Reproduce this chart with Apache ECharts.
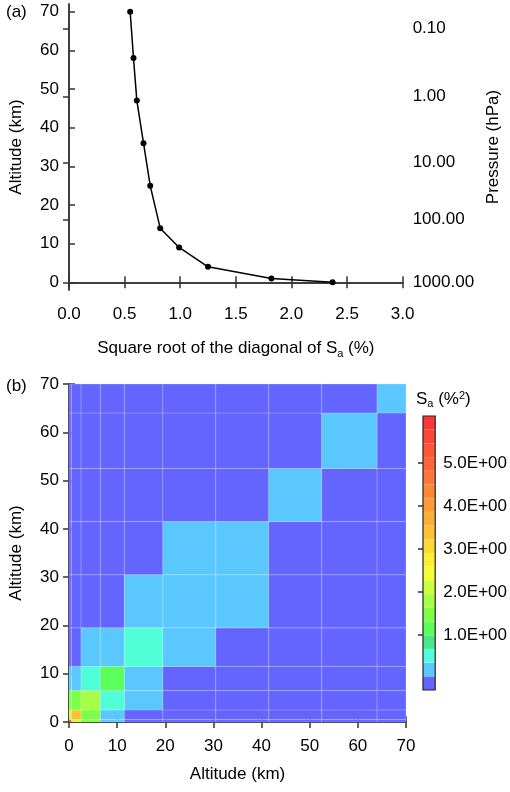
<!DOCTYPE html>
<html>
<head>
<meta charset="utf-8">
<script src="https://cdn.jsdelivr.net/npm/echarts@6/dist/echarts.min.js"></script>
<style>html,body{margin:0;padding:0;background:#fff}#main{width:510px;height:792px}</style>
</head>
<body>
<div id="main"></div>
<script>
// (a) profile
var sdValues = [2.37, 1.82, 1.25, 0.99, 0.82, 0.73, 0.67, 0.61, 0.58, 0.55];
var altitudes = [0, 1, 4, 9, 14, 25, 36, 47, 58, 70];
var pressureAlts = [0, 16.3, 31, 48.1, 65.6];
var pressureLabels = ['1000.00', '100.00', '10.00', '1.00', '0.10'];
// (b) covariance cells, layer edges in km
var layerEdges = [0, 0.5, 2.5, 6.5, 11.5, 19.5, 30.5, 41.5, 52.5, 64, 70];
var saMatrix = [
	[5.6, 2.1, 1.4, 0.2, 0, 0, 0, 0, 0, 0],
	[2.1, 3.3, 1.4, 0.2, 0, 0, 0, 0, 0, 0],
	[1.4, 1.4, 1.7, 0.5, 0.2, 0, 0, 0, 0, 0],
	[0.2, 0.2, 0.5, 1.0, 0.2, 0, 0, 0, 0, 0],
	[0, 0, 0.2, 0.2, 0.5, 0.2, 0, 0, 0, 0],
	[0, 0, 0, 0, 0.2, 0.2, 0.2, 0, 0, 0],
	[0, 0, 0, 0, 0, 0.2, 0.2, 0, 0, 0],
	[0, 0, 0, 0, 0, 0, 0, 0.2, 0, 0],
	[0, 0, 0, 0, 0, 0, 0, 0, 0.2, 0],
	[0, 0, 0, 0, 0, 0, 0, 0, 0, 0.2]
];
var cbMin = -0.28, cbMax = 6.09;
var cbColors = ['#6464ff','#5ac8ff','#50ffd8','#46e88c','#5aff5a','#7cff46','#a6ff46','#ccff3c',
	'#f2ff32','#ffee32','#ffd832','#ffc232','#ffae34','#ff9a36','#ff8836','#ff7636','#ff6636','#ff5636','#ff4636','#ff3636'];
var cbTicks = [1, 2, 3, 4, 5];

var FONT = 'Liberation Sans';
var binW = (cbMax - cbMin) / cbColors.length;
function colorFor(v){
	var i = Math.floor((v - cbMin) / binW);
	if(i < 0) i = 0;
	if(i > cbColors.length - 1) i = cbColors.length - 1;
	return cbColors[i];
}

var cells = [];
for(var r=0; r<saMatrix.length; r++){
	for(var c=0; c<saMatrix[r].length; c++){
		cells.push([layerEdges[c], layerEdges[c+1], layerEdges[r], layerEdges[r+1], saMatrix[r][c]]);
	}
}
var bins = [];
for(var k=0; k<cbColors.length; k++){
	bins.push([cbMin + k*binW, cbMin + (k+1)*binW, k]);
}
var profile = [];
for(var j=0; j<sdValues.length; j++){ profile.push([sdValues[j], altitudes[j]]); }

var lbl = {color:'#000', fontFamily:FONT, fontSize:17};
var axLine = {show:true, lineStyle:{color:'#333', width:1.5}};
var tickIn = {show:true, inside:true, length:6, lineStyle:{color:'#333', width:1.5}};

var myChart = echarts.init(document.getElementById('main'));
var option = {
	animation:false,
	textStyle:{fontFamily:FONT},
	graphic:[
		{type:'text', left:6, top:4, style:{text:'(a)', font:'17px "Liberation Sans"', fill:'#000'}},
		{type:'text', left:6, top:378, style:{text:'(b)', font:'17px "Liberation Sans"', fill:'#000'}},
		{type:'text', left:416, top:390, style:{rich:{
			n:{fontSize:17, fontFamily:FONT, fill:'#000'},
			sub:{fontSize:11, fontFamily:FONT, verticalAlign:'bottom', padding:[8,0,0,0]},
			sup:{fontSize:11, fontFamily:FONT, verticalAlign:'top', padding:[0,0,8,0]}
		}, text:'{n|S}{sub|a}{n| (%}{sup|2}{n|)}', fill:'#000'}}
	],
	grid:[
		{left:62, top:4, width:344, height:286},
		{left:62, top:384, width:344, height:338},
		{left:423, top:416, width:18, height:274}
	],
	xAxis:[
		{gridIndex:0, type:'value', min:0, max:3, interval:0.5, axisLine:axLine, axisTick:tickIn, splitLine:{show:false},
			axisLabel:Object.assign({margin:16, formatter:function(v){return v.toFixed(1);}}, lbl),
			name:'{n|Square root of the diagonal of S}{s|a}{n| (%)}', nameLocation:'middle', nameGap:48,
			nameTextStyle:{rich:{n:{fontSize:17, fontFamily:FONT, color:'#000'}, s:{fontSize:11, fontFamily:FONT, color:'#000', verticalAlign:'bottom', padding:[10,0,0,0]}}}},
		{gridIndex:0, type:'value', position:'top', min:0, max:3, interval:0.5, axisLine:axLine, axisTick:tickIn, axisLabel:{show:false}, splitLine:{show:false}},
		{gridIndex:1, type:'value', min:0, max:70, interval:10, axisLine:axLine, axisTick:tickIn, splitLine:{show:false},
			axisLabel:Object.assign({margin:16}, lbl),
			name:'Altitude (km)', nameLocation:'middle', nameGap:44, nameTextStyle:lbl},
		{gridIndex:1, type:'value', position:'top', min:0, max:70, interval:10, axisLine:axLine, axisTick:tickIn, axisLabel:{show:false}, splitLine:{show:false}},
		{gridIndex:2, type:'value', min:0, max:1, show:false}
	],
	yAxis:[
		{gridIndex:0, type:'value', min:-2, max:72, axisLine:axLine,
			axisTick:Object.assign({customValues:[0,10,20,30,40,50,60,70]}, tickIn),
			axisLabel:Object.assign({customValues:[0,10,20,30,40,50,60,70], margin:10}, lbl),
			splitLine:{show:false}, name:'Altitude (km)', nameLocation:'middle', nameGap:44, nameTextStyle:lbl},
		{gridIndex:0, type:'value', position:'right', min:-2, max:72, axisLine:axLine,
			axisTick:Object.assign({customValues:pressureAlts}, tickIn),
			axisLabel:Object.assign({customValues:pressureAlts, margin:10, formatter:function(v){
				return pressureLabels[pressureAlts.indexOf(v)];}}, lbl),
			splitLine:{show:false}, name:'Pressure (hPa)', nameLocation:'middle', nameGap:80, nameRotate:90, nameTextStyle:lbl},
		{gridIndex:1, type:'value', min:0, max:70, interval:10, axisLine:axLine, axisTick:tickIn, splitLine:{show:false},
			axisLabel:Object.assign({margin:10}, lbl),
			name:'Altitude (km)', nameLocation:'middle', nameGap:44, nameTextStyle:lbl},
		{gridIndex:1, type:'value', position:'right', min:0, max:70, interval:10, axisLine:axLine, axisTick:tickIn, axisLabel:{show:false}, splitLine:{show:false}},
		{gridIndex:2, type:'value', position:'right', min:cbMin, max:cbMax, axisLine:{show:false},
			axisTick:Object.assign({customValues:cbTicks}, {show:true, inside:true, length:5, lineStyle:{color:'#333', width:1.5}}),
			axisLabel:Object.assign({customValues:cbTicks, margin:8, formatter:function(v){return v.toFixed(1)+'E+00';}}, lbl),
			splitLine:{show:false}}
	],
	series:[
		{type:'custom', xAxisIndex:2, yAxisIndex:2, data:cells, z:1,
			renderItem:function(params, api){
				var p0 = api.coord([api.value(0), api.value(3)]);
				var p1 = api.coord([api.value(1), api.value(2)]);
				return {type:'rect', shape:{x:p0[0], y:p0[1], width:p1[0]-p0[0], height:p1[1]-p0[1]},
					style:{fill:colorFor(api.value(4)), stroke:'rgba(255,255,255,0.18)', lineWidth:1}};
			}},
		{type:'custom', xAxisIndex:4, yAxisIndex:4, data:bins, z:1,
			renderItem:function(params, api){
				var p0 = api.coord([0, api.value(1)]);
				var p1 = api.coord([1, api.value(0)]);
				return {type:'rect', shape:{x:p0[0], y:p0[1], width:p1[0]-p0[0], height:p1[1]-p0[1]},
					style:{fill:cbColors[api.value(2)], stroke:'rgba(255,255,255,0.15)', lineWidth:0.5}};
			}},
		{type:'custom', xAxisIndex:4, yAxisIndex:4, data:[[0]], z:3, silent:true,
			renderItem:function(params, api){
				var p0 = api.coord([0, cbMax]);
				var p1 = api.coord([1, cbMin]);
				return {type:'rect', shape:{x:p0[0], y:p0[1], width:p1[0]-p0[0], height:p1[1]-p0[1]},
					style:{fill:'none', stroke:'#222', lineWidth:1.2}};
			}},
		{type:'line', xAxisIndex:0, yAxisIndex:0, data:profile, symbol:'circle', symbolSize:6,
			lineStyle:{color:'#000', width:1.5}, itemStyle:{color:'#000'}}
	]
};
myChart.setOption(option);
</script>
</body>
</html>
